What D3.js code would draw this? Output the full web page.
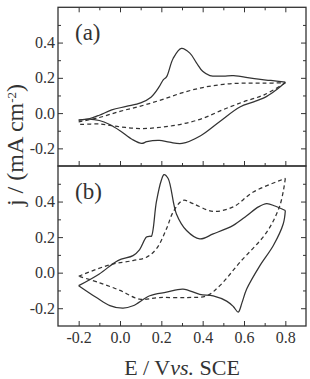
<!DOCTYPE html>
<html>
<head>
<meta charset="utf-8">
<script src="https://cdn.jsdelivr.net/npm/d3@7"></script>
<style>
  body { margin: 0; background: #fff; }
</style>
</head>
<body>
<svg class="cv" width="310" height="379"></svg>
<script>
// ---- data (E in V vs SCE, j in mA cm-2) ----
var majorE = [-0.2, 0.0, 0.2, 0.4, 0.6, 0.8];
var minorE = [-0.1, 0.1, 0.3, 0.5, 0.7];
var majorJ = [-0.2, 0.0, 0.2, 0.4];
var minorJ = [-0.1, 0.1, 0.3, 0.5];

// panel (a), solid: forward then reverse sweep
var aSolidFwdE = [-0.2, -0.15, -0.1, -0.04, 0.03, 0.1, 0.15, 0.19, 0.21, 0.225, 0.257, 0.297, 0.338, 0.37, 0.4, 0.435, 0.5, 0.55, 0.65, 0.73, 0.8];
var aSolidFwdJ = [-0.04, -0.032, -0.012, 0.018, 0.038, 0.058, 0.09, 0.15, 0.19, 0.205, 0.31, 0.367, 0.34, 0.285, 0.237, 0.213, 0.21, 0.212, 0.195, 0.185, 0.175];
var aSolidRevE = [0.8, 0.76, 0.71, 0.65, 0.58, 0.48, 0.39, 0.3, 0.24, 0.19, 0.13, 0.105, 0.06, 0.0, -0.05, -0.1, -0.15, -0.2];
var aSolidRevJ = [0.175, 0.135, 0.095, 0.065, 0.035, -0.05, -0.128, -0.172, -0.165, -0.155, -0.162, -0.172, -0.15, -0.1, -0.065, -0.042, -0.034, -0.04];

// panel (a), dashed
var aDashFwdE = [-0.2, -0.1, 0.0, 0.1, 0.2, 0.3, 0.4, 0.5, 0.6, 0.7, 0.8];
var aDashFwdJ = [-0.05, -0.025, 0.01, 0.04, 0.075, 0.115, 0.145, 0.163, 0.17, 0.17, 0.172];
var aDashRevE = [0.8, 0.7, 0.6, 0.5, 0.4, 0.3, 0.2, 0.1, 0.0, -0.1, -0.2];
var aDashRevJ = [0.172, 0.105, 0.065, 0.02, -0.03, -0.062, -0.08, -0.088, -0.078, -0.062, -0.065];

// panel (b), solid
var bSolidFwdE = [-0.2, -0.1, -0.01, 0.063, 0.095, 0.128, 0.145, 0.152, 0.176, 0.2, 0.213, 0.233, 0.273, 0.322, 0.386, 0.451, 0.548, 0.613, 0.67, 0.71, 0.75, 0.8];
var bSolidFwdJ = [-0.073, -0.007, 0.068, 0.096, 0.13, 0.2, 0.205, 0.205, 0.398, 0.52, 0.552, 0.53, 0.33, 0.237, 0.19, 0.218, 0.266, 0.32, 0.37, 0.388, 0.375, 0.35];
var bSolidRevE = [0.8, 0.79, 0.742, 0.677, 0.613, 0.59, 0.572, 0.548, 0.516, 0.451, 0.386, 0.305, 0.225, 0.144, 0.063, 0.015, -0.049, -0.114, -0.2];
var bSolidRevJ = [0.35, 0.275, 0.153, 0.04, -0.092, -0.17, -0.222, -0.19, -0.16, -0.13, -0.122, -0.092, -0.11, -0.13, -0.186, -0.2, -0.185, -0.14, -0.073];

// panel (b), dashed
var bDashFwdE = [-0.2, -0.05, 0.063, 0.128, 0.176, 0.225, 0.257, 0.305, 0.354, 0.451, 0.548, 0.645, 0.8];
var bDashFwdJ = [-0.02, 0.044, 0.068, 0.087, 0.134, 0.247, 0.341, 0.407, 0.388, 0.345, 0.37, 0.454, 0.53];
var bDashRevE = [0.8, 0.774, 0.71, 0.58, 0.483, 0.419, 0.322, 0.19, 0.095, 0.0, -0.098, -0.2];
var bDashRevJ = [0.53, 0.379, 0.228, 0.058, -0.073, -0.13, -0.14, -0.14, -0.149, -0.1, -0.057, -0.02];

var svg = d3.select(".cv");
var left = 58, right = 306;
var ink = "#333";
var serif = "'Liberation Serif', 'Times New Roman', serif";

var x = d3.scaleLinear().domain([-0.3, 0.9]).range([left, right]);

var panels = [
  { label: "(a)", top: 7.3, bottom: 166, lastAxis: false,
    curves: [[aSolidFwdE, aSolidFwdJ, false], [aSolidRevE, aSolidRevJ, false],
             [aDashFwdE, aDashFwdJ, true], [aDashRevE, aDashRevJ, true]] },
  { label: "(b)", top: 166, bottom: 326, lastAxis: true,
    curves: [[bSolidFwdE, bSolidFwdJ, false], [bSolidRevE, bSolidRevJ, false],
             [bDashFwdE, bDashFwdJ, true], [bDashRevE, bDashRevJ, true]] }
];

function fmt(d) { return d.toFixed(1); }

panels.forEach(function(p) {
  var y = d3.scaleLinear().domain([-0.3, 0.6]).range([p.bottom, p.top]);
  var g = svg.append("g");

  var line = d3.line()
      .x(function(d) { return x(d[0]); })
      .y(function(d) { return y(d[1]); })
      .curve(d3.curveCatmullRom.alpha(0.5));

  p.curves.forEach(function(c) {
    var pts = c[0].map(function(e, i) { return [e, c[1][i]]; });
    g.append("path")
      .attr("d", line(pts))
      .attr("fill", "none")
      .attr("stroke", ink)
      .attr("stroke-width", 1.25)
      .attr("stroke-dasharray", c[2] ? "4,3" : null);
  });

  // left axis, labels + inward ticks
  g.append("g").attr("transform", "translate(" + left + ",0)")
    .call(d3.axisLeft(y).tickValues(majorJ).tickSize(-5).tickPadding(3).tickFormat(fmt));
  g.append("g").attr("transform", "translate(" + left + ",0)")
    .call(d3.axisLeft(y).tickValues(minorJ).tickSize(-3).tickFormat(""));
  // right side ticks
  g.append("g").attr("transform", "translate(" + right + ",0)")
    .call(d3.axisRight(y).tickValues(majorJ).tickSize(-5).tickFormat(""));
  g.append("g").attr("transform", "translate(" + right + ",0)")
    .call(d3.axisRight(y).tickValues(minorJ).tickSize(-3).tickFormat(""));

  // bottom ticks (pointing up)
  g.append("g").attr("transform", "translate(0," + p.bottom + ")")
    .call(d3.axisBottom(x).tickValues(majorE).tickSize(-5).tickPadding(6)
      .tickFormat(p.lastAxis ? fmt : ""));
  g.append("g").attr("transform", "translate(0," + p.bottom + ")")
    .call(d3.axisBottom(x).tickValues(minorE).tickSize(-3).tickFormat(""));
  if (!p.lastAxis) {
    g.append("g").attr("transform", "translate(0," + p.top + ")")
      .call(d3.axisTop(x).tickValues(majorE).tickSize(-5).tickFormat(""));
    g.append("g").attr("transform", "translate(0," + p.top + ")")
      .call(d3.axisTop(x).tickValues(minorE).tickSize(-3).tickFormat(""));
  }

  g.selectAll(".domain").remove();
  g.selectAll("g").attr("font-family", serif).attr("font-size", 16);
  g.selectAll(".tick line").attr("stroke", ink).attr("stroke-width", 1);
  g.selectAll(".tick text").attr("fill", ink);

  g.append("rect")
    .attr("x", left).attr("y", p.top)
    .attr("width", right - left).attr("height", p.bottom - p.top)
    .attr("fill", "none").attr("stroke", ink).attr("stroke-width", 1.3);

  g.append("text")
    .attr("x", 75).attr("y", p.top + 33)
    .attr("font-family", serif)
    .attr("font-size", 23)
    .attr("fill", ink)
    .text(p.label);
});

// axis titles
var xt = svg.append("text")
  .attr("x", (left + right) / 2).attr("y", 375)
  .attr("text-anchor", "middle")
  .attr("font-family", serif)
  .attr("font-size", 22)
  .attr("fill", ink);
xt.append("tspan").text("E / V");
xt.append("tspan").attr("font-style", "italic").text("vs.");
xt.append("tspan").text(" SCE");

var yt = svg.append("text")
  .attr("transform", "translate(23,145) rotate(-90)")
  .attr("text-anchor", "middle")
  .attr("font-family", serif)
  .attr("font-size", 24)
  .attr("fill", ink);
yt.append("tspan").text("j / (mA cm");
yt.append("tspan").attr("font-size", 13).attr("baseline-shift", "super").text("-2");
yt.append("tspan").text(")");
</script>
</body>
</html>
